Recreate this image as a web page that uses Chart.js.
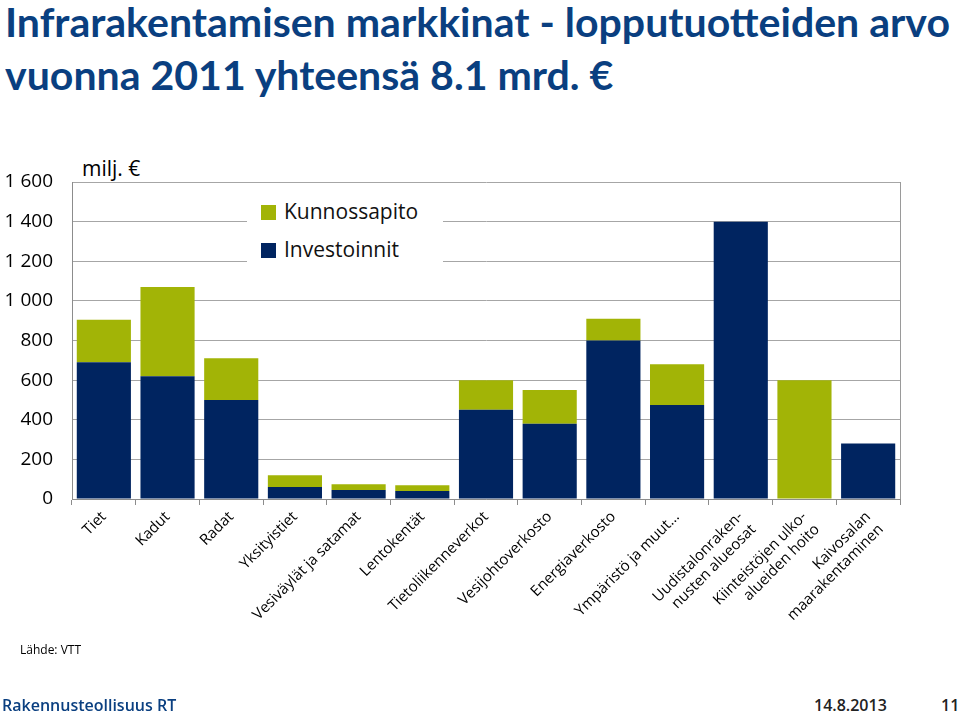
<!DOCTYPE html>
<html>
<head>
<meta charset="utf-8">
<script src="https://cdn.jsdelivr.net/npm/chart.js@4/dist/chart.umd.min.js"></script>
<style>
  body { margin: 0; width: 960px; height: 713px; background: #fff; position: relative; overflow: hidden; font-family: "Open Sans", sans-serif; }
  .title { position: absolute; left: 5px; font-family: Lato, sans-serif; font-weight: bold; color: #0a3f80; white-space: nowrap; transform-origin: 0 0; line-height: 1; }
  #chartWrap { position: absolute; left: 0; top: 150px; width: 960px; height: 500px; }
  #unit { position: absolute; left: 82px; top: 154px; font-size: 21px; color: #000; }
  #legend { position: absolute; left: 247px; top: 193px; width: 196px; height: 70px; background: #fff; }
  .leg { position: absolute; left: 14px; font-size: 21px; color: #111; white-space: nowrap; }
  .leg span { display: inline-block; width: 15px; height: 15px; margin-right: 8px; vertical-align: -1px; }
  #source { position: absolute; left: 20px; top: 641px; font-size: 12px; color: #000; }
  .foot { position: absolute; top: 694px; font-size: 16px; font-weight: 600; }
</style>
</head>
<body>
<div class="title" id="t1" style="top:2px">Infrarakentamisen markkinat - lopputuotteiden arvo</div>
<div class="title" id="t2" style="top:55px">vuonna 2011 yhteensä 8.1 mrd. €</div>
<div id="unit">milj. €</div>
<div id="chartWrap"><canvas id="chart" width="960" height="500"></canvas></div>
<div id="legend"></div>
<div id="source">Lähde: VTT</div>
<div class="foot" style="left:2px;color:#0a3f80">Rakennusteollisuus RT</div>
<div class="foot" style="left:814px;color:#222">14.8.2013</div>
<div class="foot" style="left:941px;color:#222">11</div>

<script>
// DATA
var categories = [
    "Tiet", "Kadut", "Radat", "Yksityistiet", "Vesiväylät ja satamat", "Lentokentät",
    "Tietoliikenneverkot", "Vesijohtoverkosto", "Energiaverkosto", "Ympäristö ja muut…",
    ["Uudistalonraken-", "nusten alueosat"], ["Kiinteistöjen ulko-", "alueiden hoito"],
    ["Kaivosalan", "maarakentaminen"]
];
var investoinnit = [690, 620, 500, 60, 45, 40, 450, 380, 800, 475, 1400, 0, 280];
var kunnossapito = [215, 450, 210, 60, 30, 30, 150, 170, 110, 205, 0, 600, 0];
var yTicks = [0, 200, 400, 600, 800, 1000, 1200, 1400, 1600];

var navy = '#002460';
var green = '#a2b406';

// TITLE FIT
function fitTitle(){
    var t1 = document.getElementById('t1');
    var t2 = document.getElementById('t2');
    t1.style.fontSize = '40px';
    t2.style.fontSize = '40px';
    var s = 945 / t1.scrollWidth;
    t1.style.transform = 'scale(' + s + ',1)';
    t2.style.transform = 'scale(' + s + ',1)';
}
fitTitle();

// CHART
var frame = {
    id: 'frame',
    afterDraw: function(chart){
        var a = chart.chartArea, ctx = chart.ctx;
        ctx.save();
        ctx.strokeStyle = '#9a9a9a';
        ctx.lineWidth = 1;
        ctx.beginPath();
        ctx.moveTo(Math.round(a.right) + 0.5, a.top);
        ctx.lineTo(Math.round(a.right) + 0.5, a.bottom);
        ctx.stroke();
        ctx.restore();
    }
};

var chart = new Chart(document.getElementById('chart'), {
    type: 'bar',
    data: {
        labels: categories,
        datasets: [{
            label: 'Investoinnit',
            data: investoinnit,
            backgroundColor: navy,
            barPercentage: 0.85,
            categoryPercentage: 1
        }, {
            label: 'Kunnossapito',
            data: kunnossapito,
            backgroundColor: green,
            barPercentage: 0.85,
            categoryPercentage: 1
        }]
    },
    options: {
        responsive: false,
        animation: false,
        layout: { padding: { top: 32, right: 60, left: 0, bottom: 0 } },
        plugins: { legend: { display: false }, tooltip: { enabled: false } },
        scales: {
            x: {
                stacked: true,
                afterFit: function(s){ s.height = 151; },
                grid: { drawOnChartArea: false, drawTicks: true, tickLength: 6, color: '#8c8c8c' },
                border: { color: '#8c8c8c' },
                ticks: {
                    autoSkip: false, minRotation: 45, maxRotation: 45,
                    color: '#000', padding: 3,
                    font: { family: 'Open Sans', size: 15 }
                }
            },
            y: {
                stacked: true,
                min: 0, max: 1600,
                afterFit: function(s){ s.width = 72; },
                afterBuildTicks: function(s){ s.ticks = yTicks.map(function(v){ return { value: v }; }); },
                grid: { color: '#a6a6a6', drawTicks: false },
                border: { color: '#8c8c8c' },
                ticks: {
                    color: '#000', padding: 19,
                    font: { family: 'Open Sans', size: 19 },
                    callback: function(v){ return String(v).replace(/\B(?=(\d{3})+(?!\d))/g, ' '); }
                }
            }
        }
    },
    plugins: [frame]
});

// LEGEND
var legend = document.getElementById('legend');
var order = [1, 0];
order.forEach(function(i, n){
    var ds = chart.data.datasets[i];
    var row = document.createElement('div');
    row.className = 'leg';
    row.style.top = (4 + n * 38) + 'px';
    row.innerHTML = '<span style="background:' + ds.backgroundColor + '"></span>' + ds.label;
    legend.appendChild(row);
});
</script>
</body>
</html>
